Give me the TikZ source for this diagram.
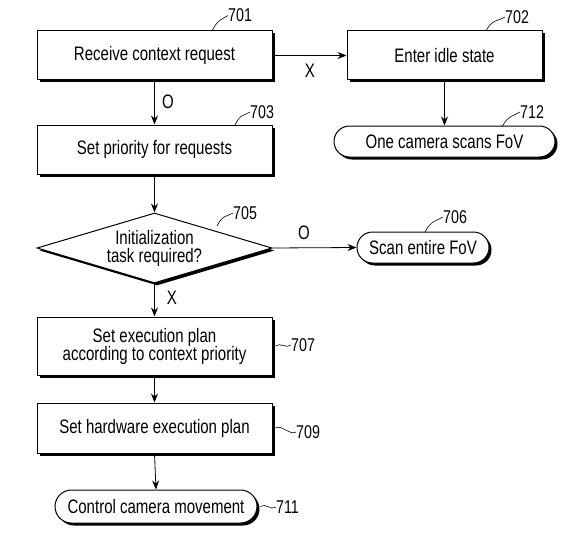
\documentclass[tikz,border=0pt]{standalone}
\usepackage{fontspec}
\setmainfont{Liberation Sans}[FakeStretch=0.77]
\usetikzlibrary{shapes.geometric,shapes.misc,shadows,arrows.meta,calc}
\begin{document}
\begin{tikzpicture}[x=1pt,y=-1pt,
  font=\fontsize{19.5pt}{21pt}\selectfont,
  shad/.style={drop shadow={shadow xshift=2.5pt,shadow yshift=-2.5pt,fill=black,opacity=1}},
  stepbox/.style={draw,line width=1pt,fill=white,shad,inner sep=0pt,align=center},
  term/.style={draw,line width=1pt,fill=white,shad,rounded rectangle,inner sep=0pt,align=center},
  dec/.style={draw,line width=1pt,fill=white,shad,diamond,inner sep=0pt,align=center,aspect=3.36},
  arr/.style={line width=0.8pt,-{Stealth[length=9pt,width=7pt]}},
  lead/.style={line width=0.6pt},
  ref/.style={inner sep=0pt,font=\fontsize{18.5pt}{20pt}\selectfont},
  br/.style={inner sep=0pt}]
\useasboundingbox (0,0) rectangle (565,543);
% main nodes
\node[stepbox,minimum width=235pt,minimum height=49pt] (n701) at (154.5,55.5) {Receive context request};
\node[stepbox,minimum width=195pt,minimum height=49pt] (n702) at (444.5,55.5) {Enter idle state};
\node[stepbox,minimum width=235pt,minimum height=49pt] (n703) at (154.5,149.5) {Set priority for requests};
\node[term,minimum width=221pt,minimum height=31pt] (n712) at (444.5,141.5) {One camera scans FoV};
\node[dec,minimum width=235pt,minimum height=70pt] (n705) at (154.5,248) {Initialization\\[-3pt]task required?};
\node[term,minimum width=132pt,minimum height=31pt] (n706) at (423,247.5) {Scan entire FoV};
\node[stepbox,minimum width=235pt,minimum height=58pt] (n707) at (154.5,346) {Set execution plan\\[-3pt]according to context priority};
\node[stepbox,minimum width=235pt,minimum height=50pt] (n709) at (154.5,428) {Set hardware execution plan};
\node[term,minimum width=202pt,minimum height=33pt] (n711) at (156,506.5) {Control camera movement};
% connectors
\draw[arr] (n701.south) -- (n703.north);
\draw[arr] (n701.east) -- (n702.west);
\draw[arr] (n702.south) -- (n712.north);
\draw[arr] (n703.south) -- (n705.north);
\draw[arr] (n705.east) -- (n706.west);
\draw[arr] (n705.south) -- (n707.north);
\draw[arr] (n707.south) -- (n709.north);
\draw[arr] (n709.south) -- (n711.north);
% branch labels
\node[br] (bO1) at (168,102) {O};
\node[br] (bX1) at (310,71) {X};
\node[br] (bO2) at (304,233) {O};
\node[br] (bX2) at (172,298) {X};
% reference numerals
\node[ref,anchor=west] (r701) at (228,15.5) {701};
\node[ref,anchor=west] (r702) at (505,17) {702};
\node[ref,anchor=west] (r703) at (250,112) {703};
\node[ref,anchor=west] (r712) at (520,112) {712};
\node[ref,anchor=west] (r705) at (233,213) {705};
\node[ref,anchor=west] (r706) at (443,217) {706};
\node[ref,anchor=west] (r707) at (291,345) {707};
\node[ref,anchor=west] (r709) at (296,432) {709};
\node[ref,anchor=west] (r711) at (276,507) {711};
% leader lines
\coordinate (c701) at (212,31);
\coordinate (c702) at (486,31);
\coordinate (c703) at (235,125);
\coordinate (c712) at (502,127);
\coordinate (c705) at (217,226);
\coordinate (c706) at (425,232);
\draw[lead] (c701) .. controls ($(c701)+(6,-12)$) and ($(r701.west)+(-6,4)$) .. (r701.west);
\draw[lead] (c702) .. controls ($(c702)+(6,-12)$) and ($(r702.west)+(-6,4)$) .. (r702.west);
\draw[lead] (c703) .. controls ($(c703)+(6,-12)$) and ($(r703.west)+(-6,4)$) .. (r703.west);
\draw[lead] (c712) .. controls ($(c712)+(6,-12)$) and ($(r712.west)+(-6,4)$) .. (r712.west);
\draw[lead] (c705) .. controls ($(c705)+(6,-12)$) and ($(r705.west)+(-6,4)$) .. (r705.west);
\draw[lead] (c706) .. controls ($(c706)+(6,-12)$) and ($(r706.west)+(-6,4)$) .. (r706.west);
\draw[lead] ([xshift=3pt]n707.east) .. controls +(5,-4) and +(-5,4) .. (r707.west);
\draw[lead] ([xshift=3pt]n709.east) .. controls +(5,-4) and +(-5,4) .. (r709.west);
\draw[lead] ([xshift=3pt]n711.east) .. controls +(5,-4) and +(-5,4) .. (r711.west);
\end{tikzpicture}
\end{document}
